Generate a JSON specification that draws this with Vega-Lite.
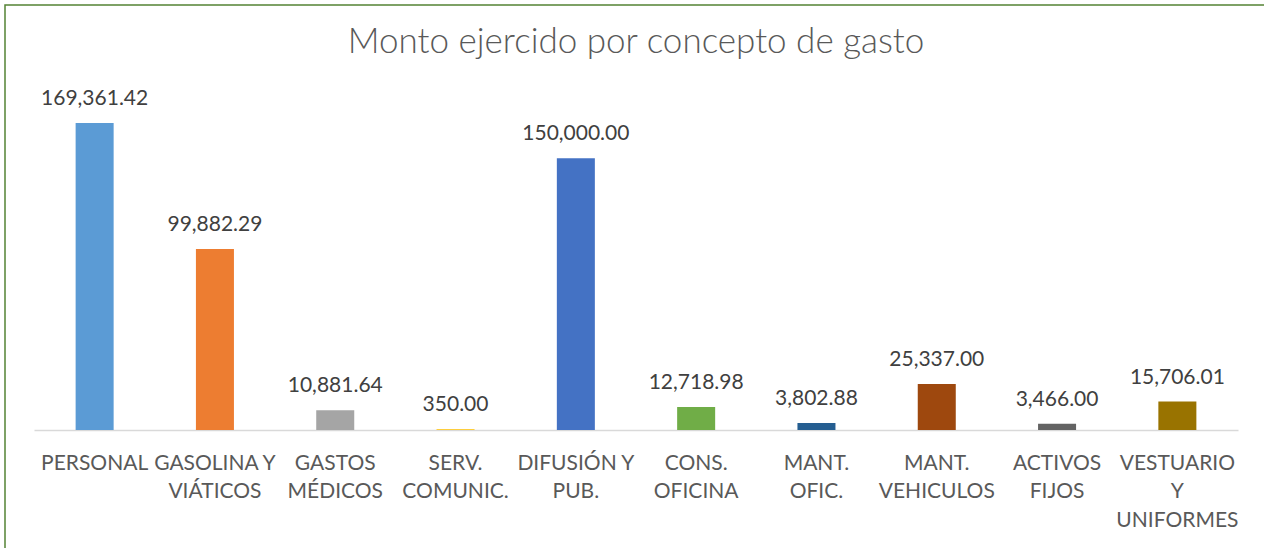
{
  "$schema": "https://vega.github.io/schema/vega-lite/v6.json",
  "autosize": "none",
  "padding": {"left": 5, "top": 5, "right": -3, "bottom": -17},
  "width": 1262,
  "height": 560,
  "title": {
    "text": "Monto ejercido por concepto de gasto",
    "offset": -83,
    "baseline": "alphabetic",
    "frame": "group",
    "anchor": "middle",
    "font": "Lato",
    "fontSize": 35,
    "fontWeight": 300,
    "color": "#595959"
  },
  "config": {
    "view": {"stroke": "#548235", "strokeWidth": 1.5},
    "background": "white"
  },
  "data": {
    "values": [
      {"concepto": "PERSONAL", "monto": 169361.42},
      {"concepto": "GASOLINA Y|VIÁTICOS", "monto": 99882.29},
      {"concepto": "GASTOS|MÉDICOS", "monto": 10881.64},
      {"concepto": "SERV.|COMUNIC.", "monto": 350.00},
      {"concepto": "DIFUSIÓN Y|PUB.", "monto": 150000.00},
      {"concepto": "CONS.|OFICINA", "monto": 12718.98},
      {"concepto": "MANT.|OFIC.", "monto": 3802.88},
      {"concepto": "MANT.|VEHICULOS", "monto": 25337.00},
      {"concepto": "ACTIVOS|FIJOS", "monto": 3466.00},
      {"concepto": "VESTUARIO|Y|UNIFORMES", "monto": 15706.01}
    ]
  },
  "encoding": {
    "x": {
      "field": "concepto",
      "type": "nominal",
      "sort": null,
      "scale": {"range": [29, 1233], "paddingInner": 0.684, "paddingOuter": 0.346},
      "axis": {
        "title": null,
        "offset": -135,
        "domainColor": "#d9d9d9",
        "domainWidth": 1.5,
        "ticks": false,
        "labelAngle": 0,
        "labelFont": "Lato",
        "labelFontSize": 21,
        "labelColor": "#595959",
        "labelBaseline": "alphabetic",
        "labelPadding": 39,
        "labelLineHeight": 28.5,
        "labelLimit": 0,
        "labelOverlap": false,
        "labelExpr": "split(datum.label, '|')"
      }
    },
    "y": {
      "field": "monto",
      "type": "quantitative",
      "scale": {"domain": [0, 200000], "range": [425, 62.5], "nice": false},
      "axis": null
    }
  },
  "layer": [
    {
      "mark": {"type": "bar"},
      "encoding": {
        "color": {
          "field": "concepto",
          "type": "nominal",
          "sort": null,
          "scale": {
            "domain": ["PERSONAL", "GASOLINA Y|VIÁTICOS", "GASTOS|MÉDICOS", "SERV.|COMUNIC.", "DIFUSIÓN Y|PUB.", "CONS.|OFICINA", "MANT.|OFIC.", "MANT.|VEHICULOS", "ACTIVOS|FIJOS", "VESTUARIO|Y|UNIFORMES"],
            "range": ["#5B9BD5", "#ED7D31", "#A5A5A5", "#FFC000", "#4472C4", "#70AD47", "#255E91", "#9E480E", "#636363", "#997300"]
          },
          "legend": null
        }
      }
    },
    {
      "mark": {"type": "text", "font": "Lato", "fontSize": 21, "color": "#404040", "baseline": "alphabetic", "dy": -18},
      "encoding": {
        "text": {"field": "monto", "type": "quantitative", "format": ",.2f"}
      }
    }
  ]
}
